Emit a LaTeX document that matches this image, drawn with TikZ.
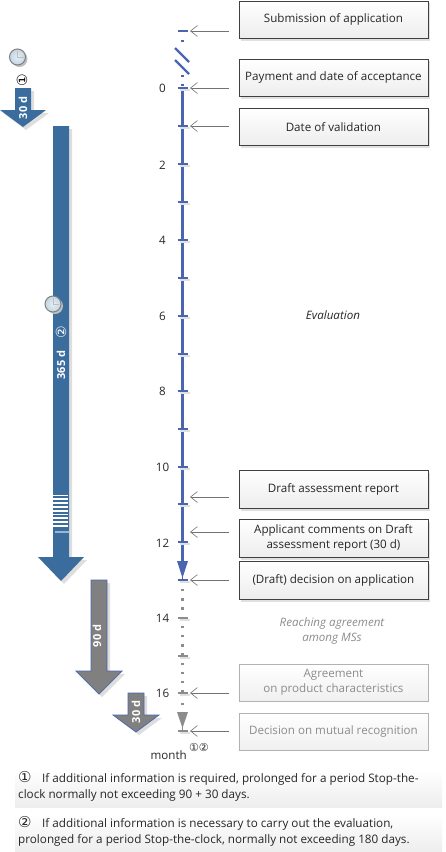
\documentclass[tikz,border=0pt]{standalone}
\usepackage{fontspec}
\setmainfont{Open Sans}
\newfontfamily\symfont{DejaVu Sans}
\usetikzlibrary{arrows.meta}
\definecolor{axisblue}{HTML}{4A66B0}
\definecolor{steelb}{HTML}{3B6C9E}
\definecolor{greyar}{HTML}{808080}
\definecolor{fadetxt}{HTML}{8C8C8C}
\definecolor{clockin}{HTML}{E4EEF4}
\definecolor{clockout}{HTML}{C4D6E2}
\tikzset{
  x=1pt,y=-1pt,
  txt/.style={font=\fontsize{11.6}{15}\selectfont,text=black!85,inner sep=0pt,align=center},
  boxbase/.style={minimum width=189pt,minimum height=37.5pt,anchor=north west,inner sep=0pt,align=center,
     font=\fontsize{11.6}{15}\selectfont},
  mainbox/.style={boxbase,draw=black!75,line width=.9pt,top color=white,bottom color=black!7,text=black!85},
  fadebox/.style={boxbase,draw=black!30,line width=.9pt,top color=white,bottom color=black!6,text=fadetxt},
  boxshadow/.style={fill=black!12,draw=none},
  callout/.style={draw=black!55,line width=.9pt,-{Straight Barb[length=7pt,width=11pt,line width=.6pt]},shorten <=10pt,shorten >=7.5pt},
  tickb/.style={draw=axisblue,line width=2.4pt},
  tickg/.style={draw=black!45,line width=2.4pt},
  tickshadow/.style={draw=black!12,line width=2pt},
  axisb/.style={draw=axisblue,line width=3.2pt},
  dotb/.style={draw=axisblue,line width=2.6pt,dash pattern=on 2.4pt off 6.8pt},
  dotg/.style={draw=black!45,line width=2.6pt,dash pattern=on 2.4pt off 6.8pt},
  vert/.style={rotate=90,text=white,inner sep=0pt,font=\fontsize{11}{12}\selectfont\bfseries},
  arrblue/.style={fill=steelb},
  arrgrey/.style={fill=greyar,draw=axisblue,line width=.7pt},
  arrshadow/.style={fill=black!13},
  note/.style={anchor=north west,inner sep=0pt,align=left,text=black!85,font=\fontsize{11.7}{16}\selectfont},
}
\newcommand{\DownArrow}[6]{%
  \fill[arrshadow] (#2-8+3,#3+3)--(#2+8+3,#3+3)--(#2+8+3,#4+3)--(#2+23+3,#4+3)--(#2+3,#5+3)--(#2-23+3,#4+3)--(#2-8+3,#4+3)--cycle;
  \path[#1] (#2-8,#3)--(#2+8,#3)--(#2+8,#4)--(#2+23,#4)--(#2,#5)--(#2-23,#4)--(#2-8,#4)--cycle;
}
\newcommand{\ClockAt}[2]{%
  \fill[black!25] (#1+2,#2+2) circle (8);
  \draw[black!50,line width=1pt,inner color=clockin,outer color=clockout] (#1,#2) circle (8);
  \draw[black!25,line width=.7pt] (#1,#2-6)--(#1,#2)--(#1+6,#2);
}
\newcommand{\oneline}[1]{\raisebox{-2pt}{#1}}
\begin{document}
\begin{tikzpicture}
\useasboundingbox (0,0) rectangle (446,852);

\coordinate (top) at (182.5,31);
\foreach \n/\yy in {0/88,1/126,2/164,3/202,4/240,5/278,6/316,7/354,8/391,9/429,10/467,11/504,12/542,13/580,14/618,15/656,16/693,17/731}
  \coordinate (m\n) at (182.5,\yy);

\DownArrow{arrblue}{23}{88}{110}{127}{}
\DownArrow{arrblue}{61}{126}{557}{581}{}
\DownArrow{arrgrey}{99}{580}{671}{694}{}
\DownArrow{arrgrey}{136}{693}{715}{732}{}
\foreach \yy in {495.5,499.3,503.1,506.9,510.7,514.5,518.3,522.1,525.9}
  \draw[white,line width=1.7pt] (53,\yy)--(68,\yy);
\draw[white!50!steelb,line width=1.4pt] (55,532)--(69,532);

\ClockAt{17.5}{57}
\ClockAt{53}{304}
\node[vert,text=black,font=\symfont\fontsize{14}{14}\selectfont] (c1) at (22,80) {①};
\node[vert] (d30a) at (23,108) {30 d};
\node[vert] (d365) at (61,365) {365 d};
\node[vert,font=\symfont\fontsize{14}{14}\selectfont] (c2) at (61,332) {②};
\node[vert] (d90) at (97,636) {90 d};
\node[vert] (d30b) at (136,712) {30 d};

\draw[axisb] (m0)--(182.5,565);
\fill[axisblue] (177,561)--(188,561)--(182.5,578)--cycle;
\draw[axisb,line width=1.5pt] (182.5,575)--(m13);
\draw[dotb] (182.5,40)--(182.5,44);
\draw[axisb,line width=2.4pt] (175,48)--(189,62);
\draw[axisb,line width=2.4pt] (175,60)--(189,74);
\draw[dotb] (182.5,74.5)--(m0);
\draw[dotg] (182.5,589)--(m16);
\draw[dotg] (182.5,703)--(182.5,707);
\fill[black!45] (177,712)--(188,712)--(182.5,728)--cycle;
\draw[tickg,line width=1.5pt] (182.5,725)--(m17);

\foreach \n in {0,...,13} {
  \draw[tickshadow] ([xshift=-3pt,yshift=-1.5pt]m\n)--([xshift=7pt,yshift=-1.5pt]m\n);
  \draw[tickb] ([xshift=-5pt]m\n)--([xshift=5pt]m\n);
}
\draw[tickb] ([xshift=-5pt]top)--([xshift=5pt]top);
\foreach \n in {14,15,16,17} {
  \draw[tickshadow] ([xshift=-3pt,yshift=-1.5pt]m\n)--([xshift=7pt,yshift=-1.5pt]m\n);
  \draw[tickg] ([xshift=-5pt]m\n)--([xshift=5pt]m\n);
}

\foreach \n/\lab in {0/0,2/2,4/4,6/6,8/8,10/10,12/12,14/14,16/16}
  \node[txt,anchor=center] (lab\n) at ([xshift=-20pt,yshift=-.8pt]m\n) {\lab};
\node[txt,anchor=base east] (mon) at (187,759) {month};
\node[txt,anchor=center,font=\symfont\fontsize{11}{11}\selectfont] (monc) at (199,747) {①②};

\fill[boxshadow] (241,3) rectangle (430,41);
\fill[boxshadow] (241,61) rectangle (430,99);
\fill[boxshadow] (241,110) rectangle (430,148);
\fill[boxshadow] (241,473) rectangle (430,511);
\fill[boxshadow] (241,522) rectangle (430,560);
\fill[boxshadow] (241,564) rectangle (430,602);
\node[mainbox] (b1) at (238.5,0.5) {\oneline{Submission of application}};
\node[mainbox] (b2) at (238.5,58.5) {\oneline{Payment and date of acceptance}};
\node[mainbox] (b3) at (238.5,107.5) {\oneline{Date of validation}};
\node[mainbox] (b4) at (238.5,470) {\oneline{Draft assessment report}};
\node[mainbox] (b5) at (238.5,519) {Applicant comments on Draft\\assessment report (30 d)};
\node[mainbox] (b6) at (238.5,561) {\oneline{(Draft) decision on application}};
\node[fadebox] (b7) at (238.5,663.5) {Agreement\\on product characteristics};
\node[fadebox] (b8) at (238.5,712.5) {\oneline{Decision on mutual recognition}};

\foreach \b/\t in {b1/top,b2/m0,b3/m1,b6/m13,b7/m16,b8/m17}
  \draw[callout] (\b.west |- \t)--(\t);
\coordinate (c4) at (182.5,497);
\coordinate (c5) at (182.5,532);
\foreach \b/\t in {b4/c4,b5/c5}
  \draw[callout] (\b.west |- \t)--(\t);

\node[txt,font=\fontsize{11.6}{15}\selectfont\itshape] (eval) at (333,315) {Evaluation};
\node[txt,text=fadetxt,font=\fontsize{11.6}{15}\selectfont\itshape] (reach) at (332,631) {Reaching agreement\\among MSs};

\fill[top color=white,bottom color=black!7] (15,770) rectangle (442,807);
\fill[top color=white,bottom color=black!7] (15,814) rectangle (442,852);
\node[note] (n1) at (18,771) {\makebox[24pt][l]{\symfont\fontsize{15}{16}\selectfont ①}If additional information is required, prolonged for a period Stop-the-\\clock normally not exceeding 90 + 30 days.};
\node[note] (n2) at (18,816) {\makebox[24pt][l]{\symfont\fontsize{15}{16}\selectfont ②}If additional information is necessary to carry out the evaluation,\\prolonged for a period Stop-the-clock, normally not exceeding 180 days.};
\end{tikzpicture}
\end{document}
